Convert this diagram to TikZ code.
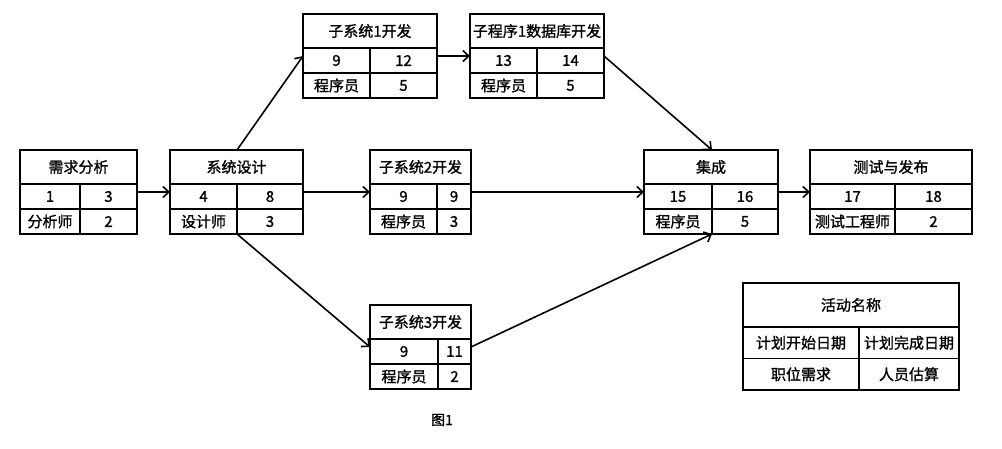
\documentclass[tikz,border=0pt]{standalone}
\usepackage{fontspec}
\setmainfont{Noto Sans CJK SC}[AutoFakeBold=1.2]
\usetikzlibrary{calc, arrows.meta}

\tikzset{
  actframe/.style={draw, line width=1.6pt, inner sep=0pt, outer sep=0pt},
  cell/.style={font=\fontsize{15}{17}\selectfont\bfseries, inner sep=0pt},
  flow/.style={line width=1.6pt, -{Straight Barb[length=6pt,width=11pt]}}
}

% row heights of a box
\def\titleh{34}
\def\rowh{25}

% name, corner, width, split, title, start, finish, role, count
\newcommand{\actbox}[9]{%
  \node[actframe, minimum width=#3, minimum height={\titleh+2*\rowh}, anchor=north west] (#1) at #2 {};
  \coordinate (#1-top) at ($(#1.north west)+(#4,0)$);
  \coordinate (#1-bot) at ($(#1.south west)+(#4,0)$);
  \draw[line width=1.6pt] ($(#1.north west)+(0,\titleh)$) -- ++(#3,0);
  \draw[line width=1.6pt] ($(#1.north west)+(0,{\titleh+\rowh})$) -- ++(#3,0);
  \draw[line width=1.6pt] ($(#1-top)+(0,\titleh)$) -- (#1-bot);
  \node[cell] (#1-name) at ($(#1.north)+(0,{\titleh/2})$) {#5};
  \node[cell] (#1-start) at ($(#1.north west)+({#4/2},{\titleh+\rowh/2})$) {#6};
  \node[cell] (#1-end) at ($(#1-top)+({(#3-#4)/2},{\titleh+\rowh/2})$) {#7};
  \node[cell] (#1-role) at ($(#1.north west)+({#4/2},{\titleh+1.5*\rowh})$) {#8};
  \node[cell] (#1-num) at ($(#1-top)+({(#3-#4)/2},{\titleh+1.5*\rowh})$) {#9};
}

\begin{document}
\begin{tikzpicture}[x=1pt, y=-1pt]
  \useasboundingbox (0,0) rectangle (1002,448);

  \actbox{req}{(20,150)}{117}{60}{需求分析}{1}{3}{分析师}{2}
  \actbox{design}{(170,150)}{133}{67}{系统设计}{4}{8}{设计师}{3}
  \actbox{sub1}{(303,14)}{134}{67}{子系统1开发}{9}{12}{程序员}{5}
  \actbox{prog1}{(470,14)}{134}{67}{子程序1数据库开发}{13}{14}{程序员}{5}
  \actbox{sub2}{(370,150)}{101}{67}{子系统2开发}{9}{9}{程序员}{3}
  \actbox{sub3}{(370,305)}{101}{68}{子系统3开发}{9}{11}{程序员}{2}
  \actbox{integ}{(644,150)}{134}{68}{集成}{15}{16}{程序员}{5}
  \actbox{test}{(810,150)}{162}{85}{测试与发布}{17}{18}{测试工程师}{2}

  % legend
  \def\titleh{44}
  \def\rowh{31.5}
  \actbox{legend}{(743,283)}{216}{116}{活动名称}{计划开始日期}{计划完成日期}{职位需求}{人员估算}

  \draw[flow] (req.east) -- (design.west);
  \draw[flow] (design-top) -- (sub1.west);
  \draw[flow] (design.east) -- (sub2.west);
  \draw[flow] (design-bot) -- (sub3.west);
  \draw[flow] (sub1.east) -- (prog1.west);
  \draw[flow] (prog1.east) -- (integ-top);
  \draw[flow] (sub2.east) -- (integ.west);
  \draw[flow] (sub3.east) -- (integ-bot);
  \draw[flow] (integ.east) -- (test.west);

  \node[cell, font=\fontsize{14}{16}\selectfont\bfseries] (fig) at (442,420) {图1};
\end{tikzpicture}
\end{document}
